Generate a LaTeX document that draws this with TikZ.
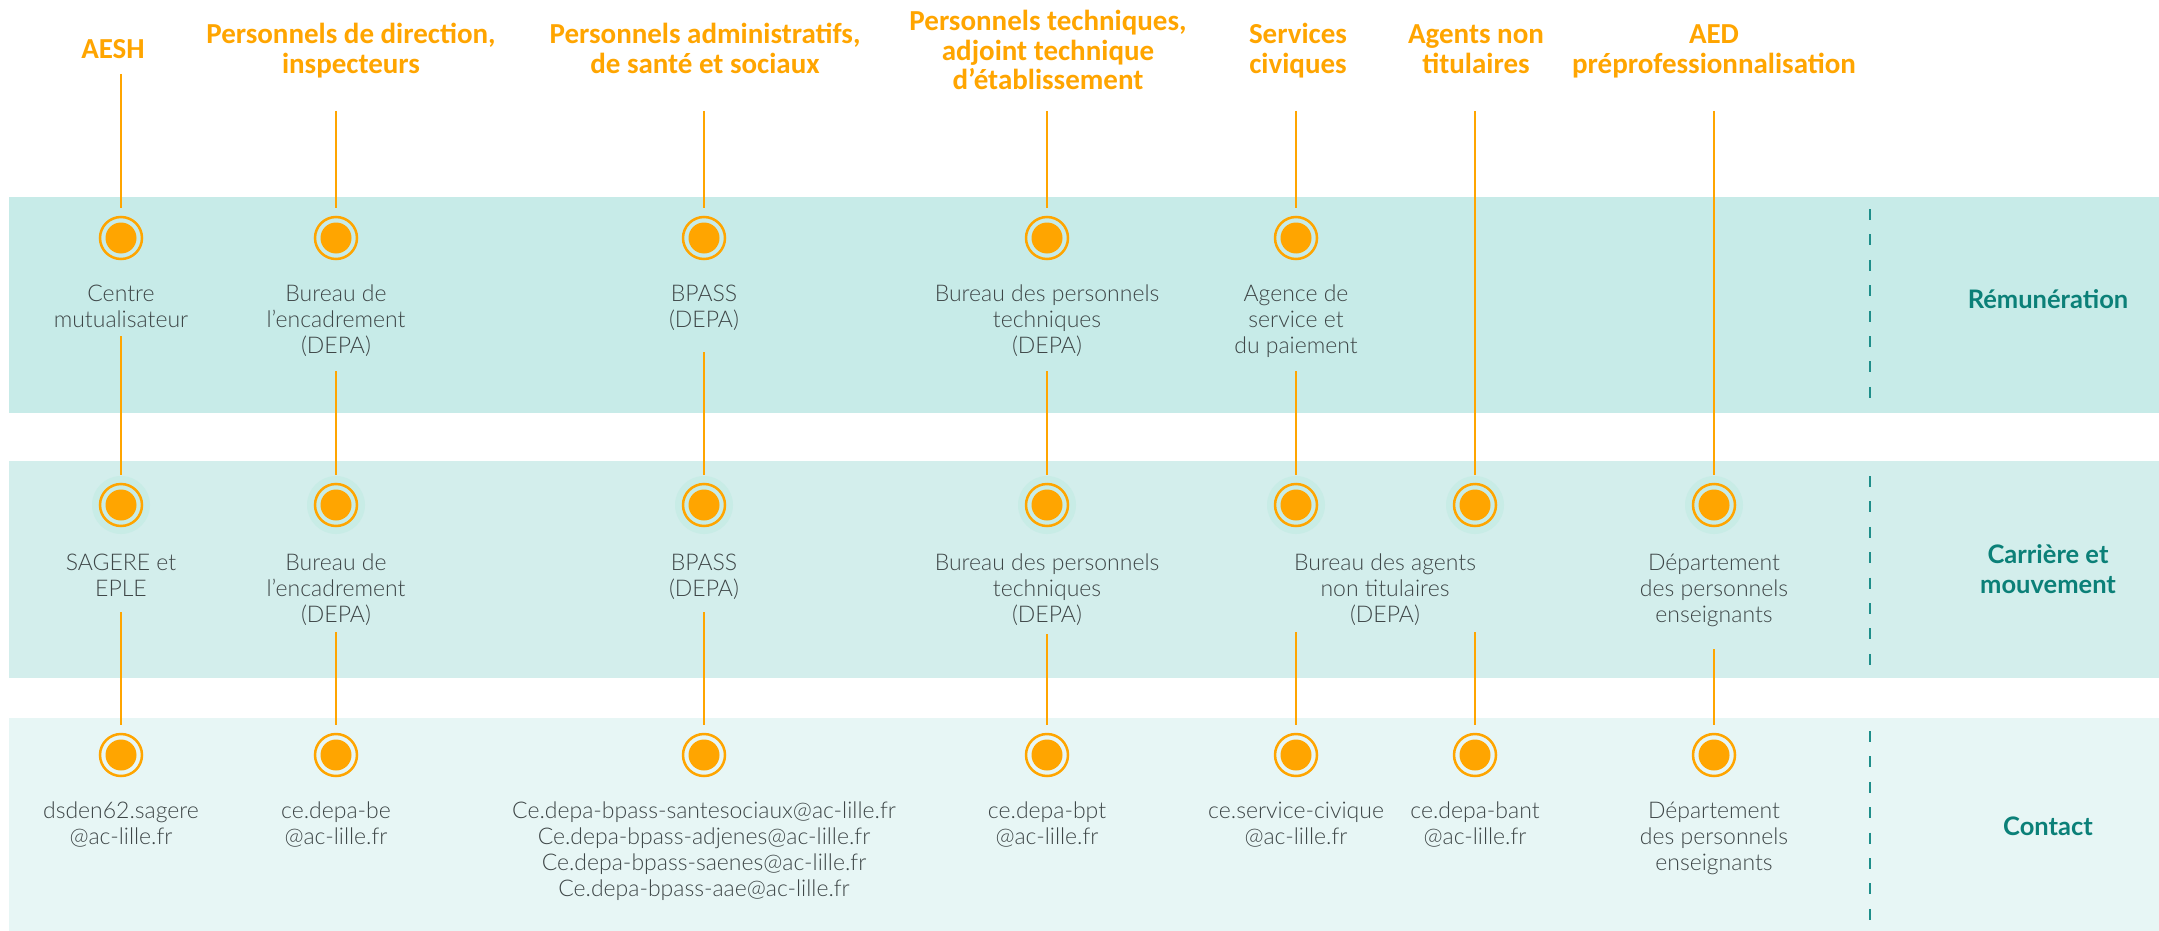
\documentclass[tikz,border=0pt]{standalone}
\usepackage{fontspec}
\usetikzlibrary{calc}
\IfFontExistsTF{Lato Light}{%
  \newfontfamily\bodyfont{Lato Light}\definecolor{bodygray}{HTML}{3E4647}}{%
  \IfFontExistsTF{Lato-Light}{%
    \newfontfamily\bodyfont{Lato-Light}\definecolor{bodygray}{HTML}{3E4647}}{%
    \newfontfamily\bodyfont{Lato}\definecolor{bodygray}{HTML}{5A6264}}}
\newfontfamily\titlefont{Carlito}
\newfontfamily\labelfont{Lato}
\definecolor{aorange}{HTML}{FFA500}
\definecolor{bandA}{HTML}{C7EBE8}
\definecolor{bandB}{HTML}{D3EEEC}
\definecolor{bandC}{HTML}{E7F6F5}
\definecolor{haloc}{HTML}{C8ECE6}
\definecolor{tealtxt}{HTML}{0B8078}
\definecolor{dashc}{HTML}{1F8E8A}
\newcommand{\ml}[1]{\begin{tabular}[t]{@{}c@{}}#1\end{tabular}}
\tikzset{
  body/.style={font=\bodyfont\fontsize{23}{26}\selectfont, text=bodygray, anchor=base, inner sep=0pt},
  ttl/.style={font=\titlefont\bfseries\fontsize{29}{29}\selectfont, text=aorange, anchor=base, inner sep=0pt},
  rowlab/.style={font=\labelfont\bfseries\fontsize{25.5}{30}\selectfont, text=tealtxt, anchor=base, inner sep=0pt},
  dot/.style={circle, minimum size=60pt, inner sep=0pt,
    path picture={
      \draw[aorange, line width=2.5pt] (path picture bounding box.center) circle (21pt);
      \fill[aorange] (path picture bounding box.center) circle (15.5pt);}},
  hdot/.style={circle, minimum size=60pt, inner sep=0pt,
    path picture={
      \fill[haloc] (path picture bounding box.center) circle (29pt);
      \draw[aorange, line width=2.5pt] (path picture bounding box.center) circle (21pt);
      \fill[aorange] (path picture bounding box.center) circle (15.5pt);}},
  conn/.style={draw=aorange, line width=2.6pt},
  dashline/.style={draw=dashc, line width=2pt, dash pattern=on 11pt off 14.4pt}
}
\begin{document}
\begin{tikzpicture}[x=1pt,y=-1pt]
\useasboundingbox (0,0) rectangle (2159,931);
\fill[white] (0,0) rectangle (2159,931);
% bands
\fill[bandA] (9,197) rectangle (2159,413);
\fill[bandB] (9,461) rectangle (2159,678);
\fill[bandC] (9,718) rectangle (2159,931);
% dashed separators
\draw[dashline] (1870,209) -- (1870,400);
\draw[dashline] (1870,476) -- (1870,667);
\draw[dashline] (1870,731) -- (1870,922);
% titles
\node[ttl] (tA) at (113,59) {\ml{AESH}};
\node[ttl] (tB) at (351,44) {\ml{Personnels de direction,\\inspecteurs}};
\node[ttl] (tC) at (705,44) {\ml{Personnels administratifs,\\de santé et sociaux}};
\node[ttl] (tD) at (1048,31) {\ml{Personnels techniques,\\adjoint technique\\d’établissement}};
\node[ttl] (tE) at (1298,44) {\ml{Services\\civiques}};
\node[ttl] (tF) at (1476,44) {\ml{Agents non\\titulaires}};
\node[ttl] (tG) at (1714,44) {\ml{AED\\préprofessionnalisation}};
% row labels
\node[rowlab] (r1) at (2048,308) {\ml{Rémunération}};
\node[rowlab] (r2) at (2048,563) {\ml{Carrière et\\mouvement}};
\node[rowlab] (r3) at (2048,835) {\ml{Contact}};
% circles
\node[dot] (c11) at (121,238) {};
\node[dot] (c12) at (336,238) {};
\node[dot] (c13) at (704,238) {};
\node[dot] (c14) at (1047,238) {};
\node[dot] (c15) at (1296,238) {};
\node[hdot] (c21) at (121,505) {};
\node[hdot] (c22) at (336,505) {};
\node[hdot] (c23) at (704,505) {};
\node[hdot] (c24) at (1047,505) {};
\node[hdot] (c25) at (1296,505) {};
\node[hdot] (c26) at (1475,505) {};
\node[hdot] (c27) at (1714,505) {};
\node[dot] (c31) at (121,755) {};
\node[dot] (c32) at (336,755) {};
\node[dot] (c33) at (704,755) {};
\node[dot] (c34) at (1047,755) {};
\node[dot] (c35) at (1296,755) {};
\node[dot] (c36) at (1475,755) {};
\node[dot] (c37) at (1714,755) {};
% band 1 texts
\node[body] (b11) at (121,301) {\ml{Centre\\mutualisateur}};
\node[body] (b12) at (336,301) {\ml{Bureau de\\l’encadrement\\(DEPA)}};
\node[body] (b13) at (704,301) {\ml{BPASS\\(DEPA)}};
\node[body] (b14) at (1047,301) {\ml{Bureau des personnels\\techniques\\(DEPA)}};
\node[body] (b15) at (1296,301) {\ml{Agence de\\service et\\du paiement}};
% band 2 texts
\node[body] (b21) at (121,570) {\ml{SAGERE et\\EPLE}};
\node[body] (b22) at (336,570) {\ml{Bureau de\\l’encadrement\\(DEPA)}};
\node[body] (b23) at (704,570) {\ml{BPASS\\(DEPA)}};
\node[body] (b24) at (1047,570) {\ml{Bureau des personnels\\techniques\\(DEPA)}};
\node[body] (b25) at (1385,570) {\ml{Bureau des agents\\non titulaires\\(DEPA)}};
\node[body] (b27) at (1714,570) {\ml{Département\\des personnels\\enseignants}};
% band 3 texts
\node[body] (b31) at (121,818) {\ml{dsden62.sagere\\@ac-lille.fr}};
\node[body] (b32) at (336,818) {\ml{ce.depa-be\\@ac-lille.fr}};
\node[body] (b33) at (704,818) {\ml{Ce.depa-bpass-santesociaux@ac-lille.fr\\Ce.depa-bpass-adjenes@ac-lille.fr\\Ce.depa-bpass-saenes@ac-lille.fr\\Ce.depa-bpass-aae@ac-lille.fr}};
\node[body] (b34) at (1047,818) {\ml{ce.depa-bpt\\@ac-lille.fr}};
\node[body] (b35) at (1296,818) {\ml{ce.service-civique\\@ac-lille.fr}};
\node[body] (b36) at (1475,818) {\ml{ce.depa-bant\\@ac-lille.fr}};
\node[body] (b37) at (1714,818) {\ml{Département\\des personnels\\enseignants}};
% connectors
\draw[conn] ($(c11 |- tA.base)+(0,15)$) -- (c11.north);
\draw[conn] ($(b11.base)+(0,35)$) -- (c21.north);
\draw[conn] ($(b21.base)+(0,42)$) -- (c31.north);
\draw[conn] ($(c12 |- tB.base)+(0,67)$) -- (c12.north);
\draw[conn] ($(b12.base)+(0,70)$) -- (c22.north);
\draw[conn] ($(b22.base)+(0,62)$) -- (c32.north);
\draw[conn] ($(c13 |- tC.base)+(0,67)$) -- (c13.north);
\draw[conn] ($(b13.base)+(0,51)$) -- (c23.north);
\draw[conn] ($(b23.base)+(0,42)$) -- (c33.north);
\draw[conn] ($(c14 |- tD.base)+(0,80)$) -- (c14.north);
\draw[conn] ($(b14.base)+(0,70)$) -- (c24.north);
\draw[conn] ($(b24.base)+(0,64)$) -- (c34.north);
\draw[conn] ($(c15 |- tE.base)+(0,67)$) -- (c15.north);
\draw[conn] ($(b15.base)+(0,70)$) -- (c25.north);
\draw[conn] ($(c25 |- b25.base)+(0,62)$) -- (c35.north);
\draw[conn] ($(c26 |- tF.base)+(0,67)$) -- (c26.north);
\draw[conn] ($(c26 |- b25.base)+(0,62)$) -- (c36.north);
\draw[conn] ($(c27 |- tG.base)+(0,67)$) -- (c27.north);
\draw[conn] ($(b27.base)+(0,79)$) -- (c37.north);
\end{tikzpicture}
\end{document}
